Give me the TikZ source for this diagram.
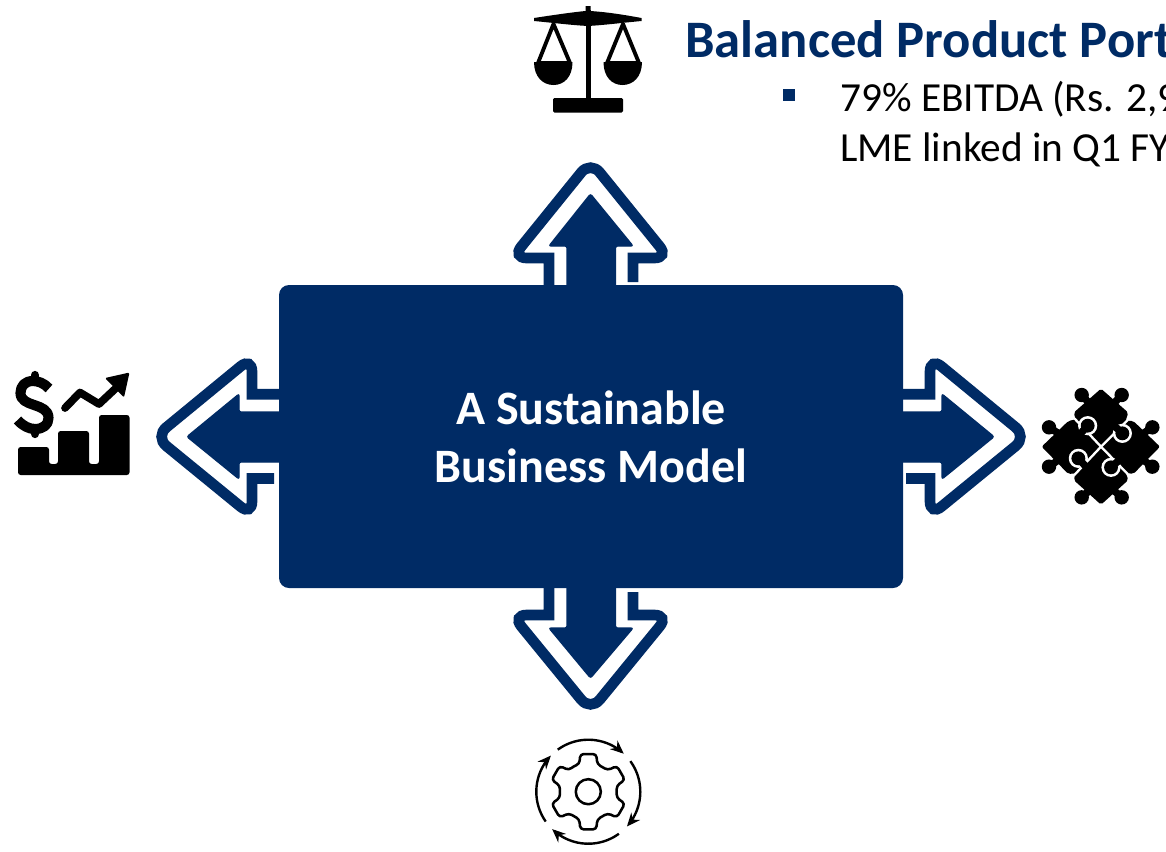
\documentclass[tikz,border=0pt]{standalone}
\usepackage{fontspec}
\setmainfont{Carlito}
\usetikzlibrary{arrows.meta}
\definecolor{navy}{HTML}{002B65}
\tikzset{
  head/.style={fill=navy,draw=navy,line width=1pt,rounded corners=1.5pt},
  outline/.style={draw=navy,line width=8pt,line join=miter,fill=none},
  iconfill/.style={fill=black,draw=none},
  iconline/.style={draw=black,line cap=round,line join=round},
  gapline/.style={draw=white,line width=1.75pt},
  cyc/.style={draw=black,line width=1.8pt,-{Stealth[length=10pt,width=8.5pt]}}
}
\begin{document}
\begin{tikzpicture}[x=.75pt,y=-.75pt]
\useasboundingbox (0,0) rectangle (1166,851);
\clip (0,0) rectangle (1166,851);
\fill[white] (0,0) rectangle (1166,851);

% outlines
\draw[outline] (549,288) -- (549,258) [rounded corners=11pt] -- (512,258) -- (590.5,161) -- (669,258) [sharp corners] -- (633,258) -- (633,282);
\draw[outline] (549,585) -- (549,615) [rounded corners=11pt] -- (512,615) -- (590.5,711) -- (669,615) [sharp corners] -- (633,615) -- (633,592);
\draw[outline] (282,394.3) -- (252,394.3) [rounded corners=11pt] -- (252,357) -- (155,436.7) -- (252,516) [sharp corners] -- (252,478.5) -- (274,478.5);
\draw[outline] (900,394.3) -- (930,394.3) [rounded corners=11pt] -- (930,357) -- (1027,436.7) -- (930,516) [sharp corners] -- (930,478.5) -- (906,478.5);

% filled arrows
\path[head] (590.5,194) -- (633,246) -- (615.5,246) -- (615.5,290) -- (567,290) -- (567,246) -- (549,246) -- cycle;
\path[head] (590.5,678) -- (633,628) -- (615.5,628) -- (615.5,584) -- (567,584) -- (567,628) -- (549,628) -- cycle;
\path[head] (187,436.7) -- (239,394) -- (239,412) -- (283,412) -- (283,462) -- (239,462) -- (239,479) -- cycle;
\path[head] (994,436.7) -- (942,394) -- (942,412) -- (899,412) -- (899,462) -- (942,462) -- (942,479) -- cycle;

% central box
\node[fill=navy,rounded corners=7.5pt,minimum width=468pt,minimum height=227.25pt,inner sep=0pt,
  text=white,align=center,font=\fontsize{36}{43.5}\selectfont\bfseries] (model) at (591,436.5)
  {A Sustainable\\Business Model};

% title and text
\node[anchor=base west,inner sep=0pt,text=navy,font=\fontsize{39.5}{46}\selectfont\bfseries] (title) at (685,57.5) {Balanced Product Port};
\node[fill=navy,minimum size=9pt,inner sep=0pt] (bullet) at (788.7,95) {};
\node[anchor=base west,inner sep=0pt,font=\fontsize{31}{36}\selectfont] (line1) at (840,111) {79\% EBITDA (Rs. 2,9};
\node[anchor=base west,inner sep=0pt,font=\fontsize{31}{36}\selectfont] (line2) at (840,161) {LME linked in Q1 FY};

% scales icon
\path[iconfill] (534,18) .. controls (560,14) and (575,12) .. (585.5,11) -- (585.5,6) -- (590.5,6) -- (590.5,11) .. controls (605,12) and (620,14) .. (641.5,18) -- (641.5,21) .. controls (620,23) and (605,25) .. (588,26) .. controls (570,25) and (555,23) .. (534,21) -- cycle;
\path[iconfill] (585.5,10) rectangle (590.5,100);
\fill[rounded corners=1pt] (553,98) rectangle (623,112.5);
\draw[iconline,line width=2.9pt] (553.5,24) -- (538,63) -- (570,63) -- cycle;
\draw[iconline,line width=2.9pt] (623,24) -- (607,63) -- (639,63) -- cycle;
\fill (534,62) -- (572.5,62) .. controls (572.5,77) and (564,85) .. (553.5,85) .. controls (543,85) and (534,77) .. (534,62) -- cycle;
\fill (603.5,62) -- (642,62) .. controls (642,77) and (633,85) .. (622.5,85) .. controls (612,85) and (603.5,77) .. (603.5,62) -- cycle;

% dollar chart icon
\fill[rounded corners=2pt] (18,475) -- (18,447) -- (49,447) -- (49,464) -- (58,464) -- (58,431) -- (89,431) -- (89,464) -- (99,464) -- (99,415) -- (129.5,415) -- (129.5,475) -- cycle;
\draw[iconline,line width=7.6pt,line cap=butt] (49,388.5) .. controls (44,383) and (38,381) .. (33,381) .. controls (25,381) and (20.5,386) .. (20.5,393) .. controls (20.5,408) and (48.5,402) .. (48.5,418) .. controls (48.5,425) and (43,429) .. (35,429) .. controls (29,429) and (23,426) .. (17.5,420);
\draw[iconline,line width=6.2pt] (35,375) -- (35,380);
\draw[iconline,line width=6.2pt] (35,430) -- (35,434);
\draw[iconline,line width=5.8pt] (65,408) -- (80,392.5) -- (99,404) -- (115,389);
\fill[rounded corners=1pt] (129.5,372.5) -- (105,378) -- (124,397.5) -- cycle;

% puzzle icon
\begin{scope}[shift={(1035,380)},x=.25pt,y=-.25pt]
  \fill[rounded corners=1.5pt] (198,26) -- (280,98) -- (272,122) -- (295,123) -- (375,200) -- (295,282) -- (272,278) -- (280,300) -- (198,374) -- (116,300) -- (122,280) -- (100,282) -- (20,200) -- (100,123) -- (122,118) -- (116,98) -- cycle;
  \foreach \kx/\ky/\nx/\ny in {140/45/165/72, 260/45/235/72, 42/142/70/160, 42/260/70/240, 352/142/325/160, 352/260/325/240, 140/352/165/330, 260/352/235/330}{
    \fill (\kx,\ky) circle[radius=5.4pt];
    \draw[line width=5.5pt] (\kx,\ky) -- (\nx,\ny);
  }
  \draw[gapline] (118,115) -- (198,200) -- (278,120);
  \draw[gapline] (118,285) -- (198,200) -- (278,282);
  \foreach \kx/\ky/\nx/\ny in {158/137/130/168, 262/160/232/132, 228/262/262/232, 130/235/160/268}{
    \fill[white] (\kx,\ky) circle[radius=7.2pt];
    \draw[line width=5.5pt] (\kx,\ky) -- (\nx,\ny);
    \fill (\kx,\ky) circle[radius=5.2pt];
  }
\end{scope}

% gear icon
\draw[iconline,line width=1.9pt] (588.3,791.7) circle[radius=9.4pt];
\draw[iconline,line width=1.9pt,rounded corners=2.5pt]
  ({588.3+29.5*cos(-120)},{791.7+29.5*sin(-120)})
  \foreach \a in {-90,-30,30,90,150,210}{
    -- ({588.3+29*cos(\a-18)},{791.7+29*sin(\a-18)})
    -- ({588.3+38.5*cos(\a-12)},{791.7+38.5*sin(\a-12)})
    -- ({588.3+38.5*cos(\a+12)},{791.7+38.5*sin(\a+12)})
    -- ({588.3+29*cos(\a+18)},{791.7+29*sin(\a+18)})
  } -- cycle;
\draw[cyc] plot[smooth,domain=-126:-47,samples=16] ({588.3+52*cos(\x)},{791.7+52*sin(\x)});
\draw[cyc] plot[smooth,domain=-36:42,samples=16] ({588.3+52*cos(\x)},{791.7+52*sin(\x)});
\draw[cyc] plot[smooth,domain=54:134,samples=16] ({588.3+52*cos(\x)},{791.7+52*sin(\x)});
\draw[cyc] plot[smooth,domain=145:224,samples=16] ({588.3+52*cos(\x)},{791.7+52*sin(\x)});
\end{tikzpicture}
\end{document}
